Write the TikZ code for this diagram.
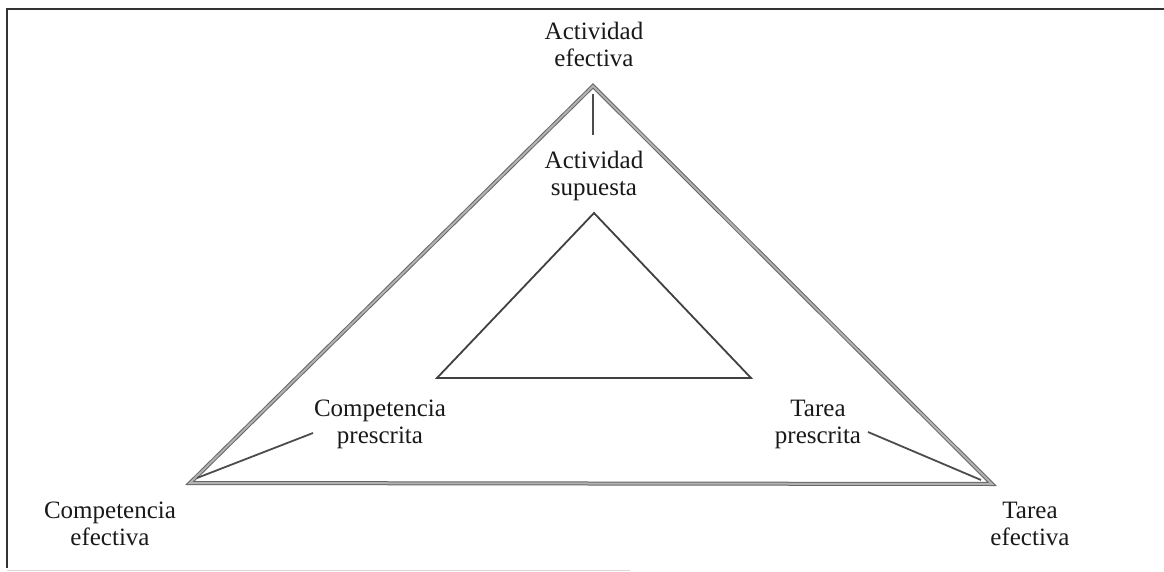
\documentclass[tikz,border=0pt]{standalone}
\usepackage{fontspec}
\setmainfont{Liberation Serif}
\begin{document}
\begin{tikzpicture}[x=1pt,y=-1pt,
  lbl/.style={align=center,inner sep=0pt,font=\fontsize{25}{27}\selectfont,text=black!90},
  outer/.style={draw=black!60,double=black!30,double distance=2pt,line width=1pt,line join=miter},
  inner/.style={draw=black!75,line width=1.8pt,line join=miter},
  spoke/.style={draw=black!70,line width=1.8pt}]
\useasboundingbox (0,0) rectangle (1164,572);
% frame
\draw[black!80,line width=1.5pt] (1164,9) -- (7,9) -- (7,568);
\draw[black!15,line width=1pt] (7,570) -- (630,570);
% outer triangle
\coordinate (OA) at (593,86);
\coordinate (OL) at (190,483);
\coordinate (OR) at (992,484);
\draw[outer] (OA) -- (OL) -- (OR) -- cycle;
% inner triangle
\coordinate (IA) at (594,213);
\coordinate (IL) at (437,378);
\coordinate (IR) at (751,378);
\draw[inner] (IA) -- (IL) -- (IR) -- cycle;
% labels
\node[lbl] (ae) at (594,44) {Actividad\\efectiva};
\node[lbl] (as) at (594,176) {Actividad\\supuesta};
\node[lbl] (cp) at (380,424) {Competencia\\prescrita};
\node[lbl] (tp) at (818,424) {Tarea\\prescrita};
\node[lbl] (ce) at (110,524) {Competencia\\efectiva};
\node[lbl] (te) at (1030,524) {Tarea\\efectiva};
% connectors
\coordinate (v1) at (593,94);
\coordinate (v2) at (593,135);
\draw[spoke,line width=1.4pt] (v1) -- (v2);
\coordinate (l1) at (313,433);
\coordinate (l2) at (197,478);
\draw[spoke] (l1) -- (l2);
\coordinate (r1) at (868,432);
\coordinate (r2) at (981,480);
\draw[spoke] (r1) -- (r2);
\end{tikzpicture}
\end{document}
